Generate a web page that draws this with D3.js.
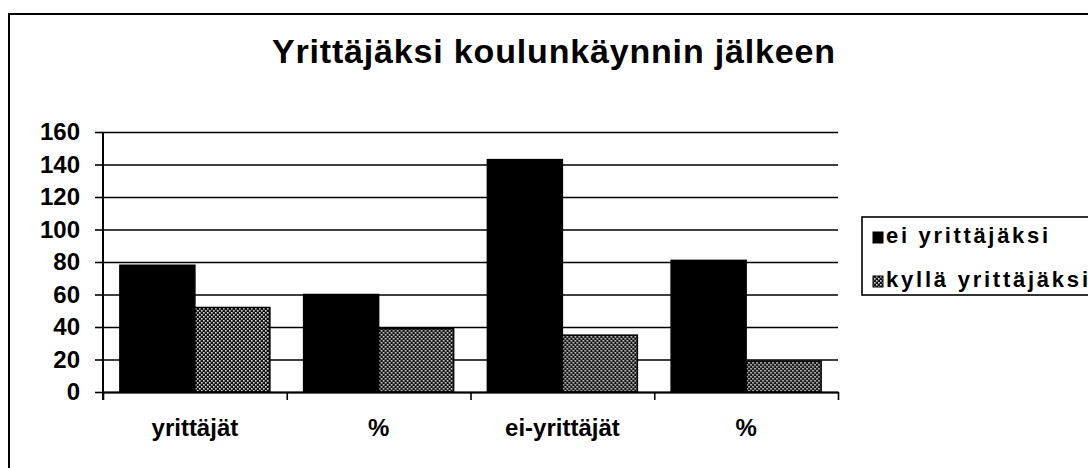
<!DOCTYPE html>
<html>
<head>
<meta charset="utf-8">
<script src="https://cdn.jsdelivr.net/npm/d3@7"></script>
<style>
  body { margin: 0; background: #fff; }
  text { font-family: "Liberation Sans", Arial, sans-serif; font-weight: bold; fill: #000; }
</style>
</head>
<body>
<div class="chart"></div>
<script>
// data
var categories = ["yrittäjät", "%", "ei-yrittäjät", "%"];
var seriesNames = ["ei yrittäjäksi", "kyllä yrittäjäksi"];
var eiValues = [78, 60, 143, 81];
var kyllaValues = [52, 39, 35, 19];
var yTicks = [0, 20, 40, 60, 80, 100, 120, 140, 160];
var titleText = "Yrittäjäksi koulunkäynnin jälkeen";

var svgWidth = 1088;
var svgHeight = 468;

// plot area in page pixels
var margin = { top: 132, right: 250, bottom: 76, left: 103 };
var chartWidth = svgWidth - margin.left - margin.right;
var chartHeight = svgHeight - margin.top - margin.bottom;

var svg = d3.select(".chart")
  .append("svg")
  .attr("width", svgWidth)
  .attr("height", svgHeight);

// dotted fill for the second series
var defs = svg.append("defs");
var dots = defs.append("pattern")
  .attr("id", "dots")
  .attr("width", 4)
  .attr("height", 4)
  .attr("patternUnits", "userSpaceOnUse");
dots.append("rect").attr("width", 4).attr("height", 4).attr("fill", "#111");
dots.append("rect").attr("x", 0).attr("y", 0).attr("width", 1.6).attr("height", 1.6).attr("fill", "#ddd");
dots.append("rect").attr("x", 2).attr("y", 2).attr("width", 1.6).attr("height", 1.6).attr("fill", "#ddd");

// outer frame (runs off the right and bottom edge)
svg.append("rect")
  .attr("x", 9)
  .attr("y", 14)
  .attr("width", 1200)
  .attr("height", 600)
  .attr("fill", "none")
  .attr("stroke", "#000")
  .attr("stroke-width", 2);

// title
svg.append("text")
  .attr("x", 272)
  .attr("y", 63)
  .attr("textLength", 563)
  .attr("lengthAdjust", "spacing")
  .style("font-size", "34px")
  .text(titleText);

var chartGroup = svg.append("g")
  .attr("transform", `translate(${margin.left}, ${margin.top})`);

var yLinearScale = d3.scaleLinear()
  .domain([0, 160])
  .range([chartHeight, 0]);

var x0 = d3.scaleBand()
  .domain(d3.range(categories.length))
  .range([0, chartWidth]);

var x1 = d3.scaleBand()
  .domain(seriesNames)
  .range([0, x0.bandwidth()])
  .paddingOuter(0.225);

// gridlines
chartGroup.append("g")
  .attr("class", "grid")
  .call(d3.axisLeft(yLinearScale).tickValues(yTicks).tickSize(-chartWidth).tickFormat(""))
  .call(g => g.select(".domain").remove())
  .call(g => g.selectAll("line").attr("stroke", "#000").attr("stroke-width", 1.6));

// y axis with labels
var leftAxis = d3.axisLeft(yLinearScale)
  .tickValues(yTicks)
  .tickSize(8)
  .tickPadding(15);

chartGroup.append("g")
  .call(leftAxis)
  .call(g => g.select(".domain").remove())
  .call(g => g.selectAll("line").attr("stroke", "#000").attr("stroke-width", 1.6))
  .call(g => g.selectAll("text").style("font-size", "24px").attr("fill", "#000").attr("font-family", null));

// bars
var rows = categories.map(function (c, i) {
  return { i: i, values: [eiValues[i], kyllaValues[i]] };
});

var groups = chartGroup.selectAll(".group")
  .data(rows)
  .enter()
  .append("g")
  .attr("class", "group")
  .attr("transform", d => `translate(${x0(d.i)}, 0)`);

groups.selectAll("rect")
  .data(d => d.values.map((v, k) => ({ name: seriesNames[k], value: v })))
  .enter()
  .append("rect")
  .attr("x", d => x1(d.name))
  .attr("y", d => yLinearScale(d.value))
  .attr("width", x1.bandwidth())
  .attr("height", d => chartHeight - yLinearScale(d.value))
  .attr("fill", (d, k) => k === 0 ? "#000" : "url(#dots)")
  .attr("stroke", "#000")
  .attr("stroke-width", 1.5);

// vertical axis line
chartGroup.append("line")
  .attr("x1", 0).attr("x2", 0)
  .attr("y1", 0).attr("y2", chartHeight + 8)
  .attr("stroke", "#000")
  .attr("stroke-width", 2);

// x axis: ticks at category boundaries
var xEdges = d3.scaleLinear().domain([0, categories.length]).range([0, chartWidth]);
chartGroup.append("g")
  .attr("transform", `translate(0, ${chartHeight})`)
  .call(d3.axisBottom(xEdges).tickValues(d3.range(categories.length + 1)).tickSize(8).tickFormat("").tickSizeOuter(0))
  .call(g => g.select(".domain").attr("stroke", "#000").attr("stroke-width", 2))
  .call(g => g.selectAll("line").attr("stroke", "#000").attr("stroke-width", 1.6));

// category labels
chartGroup.append("g")
  .attr("transform", `translate(0, ${chartHeight})`)
  .call(d3.axisBottom(x0).tickSize(0).tickPadding(27).tickFormat(i => categories[i]))
  .call(g => g.select(".domain").remove())
  .call(g => g.selectAll("text").style("font-size", "24px").attr("fill", "#000").attr("font-family", null));

// legend
var legend = svg.append("g");
legend.append("rect")
  .attr("x", 862)
  .attr("y", 217)
  .attr("width", 300)
  .attr("height", 78)
  .attr("fill", "#fff")
  .attr("stroke", "#000")
  .attr("stroke-width", 1.6);

var legendWidths = [162, 202];
seriesNames.forEach(function (name, k) {
  var y = 243 + k * 44;
  legend.append("rect")
    .attr("x", 873)
    .attr("y", y - 11)
    .attr("width", 10)
    .attr("height", 11)
    .attr("fill", k === 0 ? "#000" : "url(#dots)")
    .attr("stroke", "#000")
    .attr("stroke-width", 1);
  legend.append("text")
    .attr("x", 886)
    .attr("y", y)
    .attr("textLength", legendWidths[k])
    .attr("lengthAdjust", "spacing")
    .style("font-size", "22px")
    .text(name);
});
</script>
</body>
</html>
